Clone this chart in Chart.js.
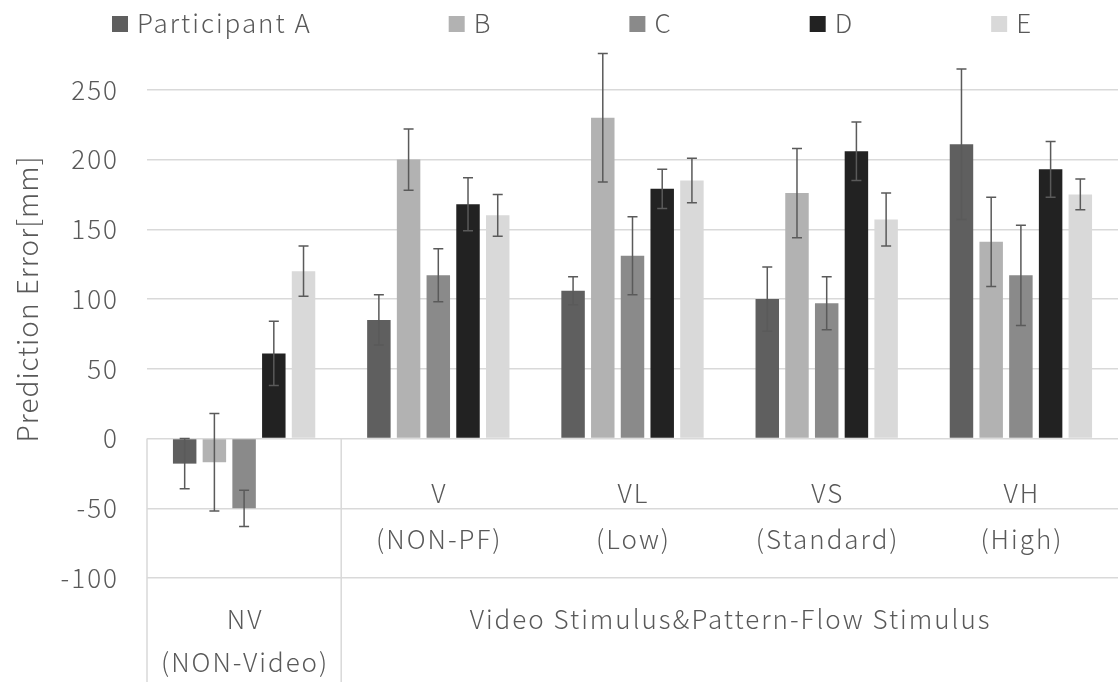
<!DOCTYPE html>
<html>
<head>
<meta charset="utf-8">
<script src="https://cdn.jsdelivr.net/npm/chart.js@4.4.0/dist/chart.umd.min.js"></script>
<style>
  html, body { margin: 0; padding: 0; background: #fff; }
  #wrap { width: 1118px; height: 682px; }
</style>
</head>
<body>
<div id="wrap"><canvas id="chart" width="1118" height="682"></canvas></div>
<script>
// Categorías del eje X
const categories = ['NV', 'V', 'VL', 'VS', 'VH']
const innerLabels = ['', 'V', 'VL', 'VS', 'VH']
const innerSubLabels = ['', '(NON-PF)', '(Low)', '(Standard)', '(High)']

// Etiquetas del segundo nivel (grupos)
const outerLabels = ['NV', 'Video Stimulus&Pattern-Flow Stimulus']
const outerSubLabels = ['(NON-Video)', '']
const outerFirst = [0, 1]
const outerLast = [0, 4]

// Series
const seriesNames = ['Participant A', 'B', 'C', 'D', 'E']
const valuesA = [-18, 85, 106, 100, 211]
const valuesB = [-17, 200, 230, 176, 141]
const valuesC = [-50, 117, 131, 97, 117]
const valuesD = [61, 168, 179, 206, 193]
const valuesE = [120, 160, 185, 157, 175]

// Barras de error (+/-)
const errorsA = [18, 18, 10, 23, 54]
const errorsB = [35, 22, 46, 32, 32]
const errorsC = [13, 19, 28, 19, 36]
const errorsD = [23, 19, 14, 21, 20]
const errorsE = [18, 15, 16, 19, 11]

// Ticks del eje Y
const yTicks = [-100, -50, 0, 50, 100, 150, 200, 250]
const yTitle = 'Prediction Error[mm]'

const seriesColors = ['#5f5f5f', '#b2b2b2', '#8a8a8a', '#222222', '#d9d9d9']
const textColor = '#595959'
const gridColor = '#d9d9d9'
const fontFamily = "'Noto Sans CJK JP', 'Noto Sans', sans-serif"
const fontCss = '300 26px ' + fontFamily

const allValues = [valuesA, valuesB, valuesC, valuesD, valuesE]
const allErrors = [errorsA, errorsB, errorsC, errorsD, errorsE]

// Espaciado de letras para imitar la fuente ancha del original
const spacingPlugin = {
	id: 'spacing',
	beforeDraw(chart) {
		chart.ctx.letterSpacing = '2px'
	},
}

// Dibujar barras de error
const errorBarPlugin = {
	id: 'errorBars',
	afterDatasetsDraw(chart) {
		const ctx = chart.ctx
		const yScale = chart.scales.y
		ctx.save()
		ctx.strokeStyle = '#5a5a5a'
		ctx.lineWidth = 1.5
		chart.data.datasets.forEach((ds, i) => {
			const meta = chart.getDatasetMeta(i)
			meta.data.forEach((bar, j) => {
				const v = ds.data[j]
				const e = ds.errors[j]
				const yTop = yScale.getPixelForValue(v + e)
				const yBot = yScale.getPixelForValue(v - e)
				const cap = 5
				ctx.beginPath()
				ctx.moveTo(bar.x, yTop)
				ctx.lineTo(bar.x, yBot)
				ctx.moveTo(bar.x - cap, yTop)
				ctx.lineTo(bar.x + cap, yTop)
				ctx.moveTo(bar.x - cap, yBot)
				ctx.lineTo(bar.x + cap, yBot)
				ctx.stroke()
			})
		})
		ctx.restore()
	},
}

// Etiquetas de categorías en dos niveles (estilo Excel) y título del eje Y
const categoryLabelPlugin = {
	id: 'categoryLabels',
	afterDraw(chart) {
		const ctx = chart.ctx
		const x = chart.scales.x
		const y = chart.scales.y
		const area = chart.chartArea
		const y0 = y.getPixelForValue(0)
		const yLow = y.getPixelForValue(-100)
		const half = (x.getPixelForValue(1) - x.getPixelForValue(0)) / 2

		ctx.save()
		// Líneas separadoras verticales
		ctx.strokeStyle = gridColor
		ctx.lineWidth = 1.5
		ctx.beginPath()
		ctx.moveTo(area.left, y0)
		ctx.lineTo(area.left, chart.height)
		outerLast.forEach((last, k) => {
			if (k < outerLast.length - 1) {
				const xs = x.getPixelForValue(last) + half
				ctx.moveTo(xs, y0)
				ctx.lineTo(xs, chart.height)
			}
		})
		ctx.stroke()

		ctx.fillStyle = textColor
		ctx.font = fontCss
		ctx.letterSpacing = '2px'
		ctx.textAlign = 'center'
		ctx.textBaseline = 'middle'
		// Primer nivel
		categories.forEach((c, i) => {
			const cx = x.getPixelForValue(i) + 1
			ctx.fillText(innerLabels[i], cx, y0 + 55)
			ctx.fillText(innerSubLabels[i], cx, y0 + 101)
		})
		// Segundo nivel
		outerLabels.forEach((label, k) => {
			const cx = (x.getPixelForValue(outerFirst[k]) + x.getPixelForValue(outerLast[k])) / 2 + 1
			ctx.fillText(label, cx, yLow + 41)
			ctx.fillText(outerSubLabels[k], cx, yLow + 84)
		})

		// Título del eje Y
		ctx.font = '300 28px ' + fontFamily
		ctx.letterSpacing = '1px'
		ctx.translate(27, 299)
		ctx.rotate(-Math.PI / 2)
		ctx.fillText(yTitle, 0, 0)
		ctx.restore()
	},
}

// Leyenda personalizada arriba
const legendPlugin = {
	id: 'topLegend',
	afterDraw(chart) {
		const ctx = chart.ctx
		ctx.save()
		ctx.font = fontCss
		ctx.letterSpacing = '2px'
		ctx.textBaseline = 'middle'
		ctx.textAlign = 'left'
		let lx = 112
		seriesNames.forEach((name, i) => {
			ctx.fillStyle = seriesColors[i]
			ctx.fillRect(lx, 16, 16, 16)
			ctx.fillStyle = textColor
			ctx.fillText(name, lx + 25, 23)
			lx += 25 + ctx.measureText(name).width + 137
		})
		ctx.restore()
	},
}

const datasets = seriesNames.map((name, i) => ({
	label: name,
	data: allValues[i],
	errors: allErrors[i],
	backgroundColor: seriesColors[i],
	borderWidth: 0,
	categoryPercentage: 0.765,
	barPercentage: 0.79,
}))

const ctx = document.getElementById('chart').getContext('2d')
const chart = new Chart(ctx, {
	type: 'bar',
	data: {
		labels: categories,
		datasets: datasets,
	},
	plugins: [spacingPlugin, errorBarPlugin, categoryLabelPlugin, legendPlugin],
	options: {
		responsive: false,
		animation: false,
		devicePixelRatio: 1,
		layout: {
			padding: { top: 48, bottom: 104, left: 0, right: 0 },
		},
		scales: {
			x: {
				display: false,
			},
			y: {
				min: -100,
				max: 280,
				afterBuildTicks: (scale) => {
					scale.ticks = yTicks.map((v) => ({ value: v }))
				},
				afterFit: (scale) => {
					scale.width = 147
				},
				border: { display: false },
				grid: {
					color: gridColor,
					lineWidth: 1.5,
					drawTicks: false,
				},
				ticks: {
					padding: 28,
					color: textColor,
					font: { family: fontFamily, size: 26, weight: '300' },
				},
			},
		},
		plugins: {
			legend: { display: false },
			tooltip: { enabled: false },
		},
	},
})
</script>
</body>
</html>
